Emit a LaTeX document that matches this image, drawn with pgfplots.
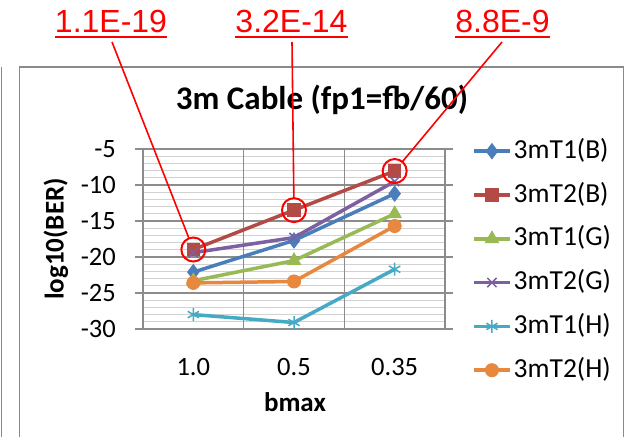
\documentclass[border=0pt]{standalone}
\usepackage{fontspec}
\setmainfont{Carlito}
\newfontfamily\arialfont{Liberation Sans}
\usepackage{pgfplots}
\pgfplotsset{compat=1.18}
\definecolor{sB}{HTML}{4A7EBB}
\definecolor{sR}{HTML}{B44A46}
\definecolor{sG}{HTML}{98B954}
\definecolor{sP}{HTML}{7D60A0}
\definecolor{sA}{HTML}{46AAC5}
\definecolor{sO}{HTML}{E8883F}
\definecolor{gmaj}{HTML}{8C8C8C}
\definecolor{gmin}{HTML}{D2D2D2}
\definecolor{boxc}{HTML}{8A8A8A}
\begin{document}
\begin{tikzpicture}
\useasboundingbox (0,0) rectangle (626bp,437bp);
\fill[white] (0,0) rectangle (626bp,437bp);
\draw[boxc, line width=1.3bp] (1.5bp,0) -- (1.5bp,370bp);
\draw[boxc, line width=1.3bp] (19.5bp,-5bp) -- (19.5bp,370bp) -- (623.5bp,370bp) -- (623.5bp,-5bp);
\node[font=\bfseries\fontsize{33bp}{38bp}\selectfont, anchor=base, inner sep=0pt] at (322bp,327bp) {3m Cable (fp1=fb/60)};
\node[font=\bfseries\fontsize{27bp}{32bp}\selectfont, anchor=base, inner sep=0pt] at (295bp,26bp) {bmax};
\node[font=\bfseries\fontsize{27bp}{32bp}\selectfont, rotate=90, inner sep=0pt] at (56bp,198bp) {log10(BER)};
\begin{axis}[
  at={(143bp,108bp)}, anchor=south west,
  scale only axis, width=302bp, height=180bp,
  xmin=-0.5, xmax=2.5, ymin=-30, ymax=-5,
  xtick={0,1,2}, xticklabels={1.0,0.5,0.35},
  ytick={-30,-25,-20,-15,-10,-5},
  minor y tick num=4,
  extra x ticks={0.5,1.5}, extra x tick labels={},
  extra x tick style={grid=major, major tick length=0pt},
  ymajorgrids, yminorgrids,
  major grid style={color=gmaj, line width=1.2bp},
  minor grid style={color=gmin, line width=1.1bp},
  axis line style={color=gmaj, line width=1.2bp},
  tick style={color=gmaj, line width=1.2bp},
  tick align=outside,
  major tick length=8bp, minor tick length=0pt,
  xtick style={draw=none},
  /pgf/number format/assume math mode=true,
  ticklabel style={font=\fontsize{26.5bp}{30bp}\selectfont},
  yticklabel style={inner sep=0pt, anchor=east, xshift=-19bp},
  xticklabel style={inner sep=0pt, anchor=base, yshift=-38bp},
  legend style={at={(1,1)}, anchor=north west, xshift=27bp, yshift=11bp,
    draw=none, fill=none, inner sep=0pt, row sep=17.8bp,
    font=\fontsize{27.5bp}{32bp}\selectfont,
    nodes={inner sep=0pt, text height=20bp, text depth=6bp},
    /tikz/every odd column/.append style={column sep=2bp}},
  legend cell align=left,
  legend image code/.code={\draw[#1, mark repeat=2, mark phase=2] plot coordinates {(0bp,0bp) (18bp,0bp) (36bp,0bp)};},
  every axis plot/.append style={line width=3.5bp},
]
\addplot[color=sB, mark=diamond*, mark size=7.5bp, mark options={line width=1bp, fill=sB}] coordinates {(0,-22.1) (1,-17.7) (2,-11.2)};
\addlegendentry{3mT1(B)}
\addplot[color=sR, mark=square*, mark size=6.2bp, mark options={line width=1bp, fill=sR}] coordinates {(0,-18.96) (1,-13.49) (2,-8.06)};
\addlegendentry{3mT2(B)}
\addplot[color=sG, mark=triangle*, mark size=7.5bp, mark options={line width=1bp, fill=sG}] coordinates {(0,-23.3) (1,-20.5) (2,-14.0)};
\addlegendentry{3mT1(G)}
\addplot[color=sP, mark=x, mark size=6.5bp, mark options={line width=1.5bp}] coordinates {(0,-19.4) (1,-17.3) (2,-9.5)};
\addlegendentry{3mT2(G)}
\addplot[color=sA, mark=asterisk, mark size=6.5bp, mark options={line width=1.5bp}] coordinates {(0,-28.0) (1,-29.1) (2,-21.7)};
\addlegendentry{3mT1(H)}
\addplot[color=sO, mark=*, mark size=6.5bp, mark options={line width=1bp, fill=sO}] coordinates {(0,-23.6) (1,-23.4) (2,-15.7)};
\addlegendentry{3mT2(H)}
\addplot[forget plot, only marks, mark=o, mark size=12bp, mark options={draw=red, line width=2bp}] coordinates {(0,-18.96) (1,-13.49) (2,-8.06)};
\coordinate (p1) at (axis cs:0,-18.96);
\coordinate (p2) at (axis cs:1,-13.49);
\coordinate (p3) at (axis cs:2,-8.06);
\end{axis}
\begin{scope}[every node/.style={anchor=base, inner sep=0pt, text=red, font=\arialfont\fontsize{32bp}{36bp}\selectfont}]
\node (L1) at (111bp,404bp) {1.1E-19};
\node (L2) at (291.5bp,404bp) {3.2E-14};
\node (L3) at (502.5bp,404bp) {8.8E-9};
\end{scope}
\foreach \L in {L1,L2,L3} {\draw[red, line width=2.5bp] ([yshift=-4bp]\L.base west) -- ([yshift=-4bp]\L.base east);}
\draw[red, line width=1.6bp, shorten >=12bp] (112bp,395bp) -- (p1);
\draw[red, line width=1.6bp, shorten >=12bp] (292bp,395bp) -- (p2);
\draw[red, line width=1.6bp, shorten >=12bp] (502bp,395bp) -- (p3);
\end{tikzpicture}
\end{document}
